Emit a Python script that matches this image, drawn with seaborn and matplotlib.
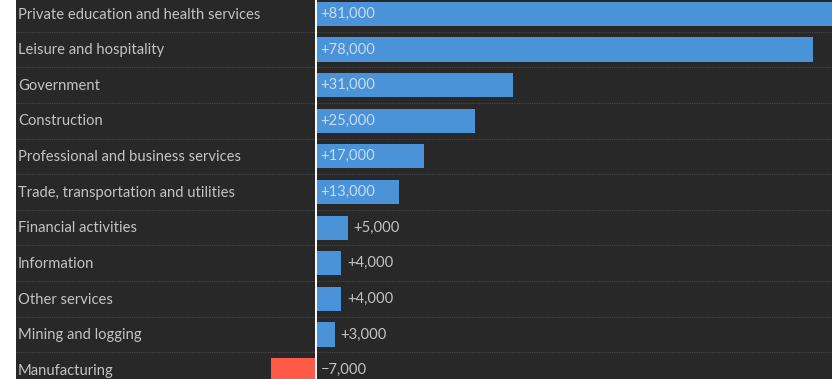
import matplotlib
matplotlib.use("Agg")
import matplotlib.pyplot as plt
import matplotlib.transforms as mtransforms
import seaborn as sns
import pandas as pd

sectors = [
    "Private education and health services",
    "Leisure and hospitality",
    "Government",
    "Construction",
    "Professional and business services",
    "Trade, transportation and utilities",
    "Financial activities",
    "Information",
    "Other services",
    "Mining and logging",
    "Manufacturing",
]
job_change = [81000, 78000, 31000, 25000, 17000, 13000, 5000, 4000, 4000, 3000, -7000]

BG = "#282828"
BLUE = "#4a93d8"
RED = "#ff5a47"
LABEL = "#c4c4c4"

sns.set_theme(style="white")
plt.rcParams["font.family"] = ["Lato", "DejaVu Sans"]

df = pd.DataFrame({"sector": sectors, "change": job_change})
df["sign"] = ["gain" if v >= 0 else "loss" for v in job_change]

fig = plt.figure(figsize=(8.32, 3.79), dpi=100, facecolor="white")
ax = fig.add_axes([16 / 832, 0, 816 / 832, 1])
ax.set_facecolor(BG)

sns.barplot(
    data=df, x="change", y="sector", hue="sign",
    palette={"gain": BLUE, "loss": RED},
    orient="h", width=0.68, dodge=False, legend=False, ax=ax,
    saturation=1, linewidth=0,
)

ax.set_xlim(-47000, 81000)
ax.set_ylim(10.25, -0.39)
ax.set_xlabel("")
ax.set_ylabel("")
ax.set_xticks([])
ax.set_yticks([])
for s in ax.spines.values():
    s.set_visible(False)

# row separators
for i in range(len(sectors) - 1):
    ax.axhline(i + 0.5, color="#474747", lw=0.8, ls=(0, (1, 1)), zorder=0)

# zero baseline
ax.axvline(0, color="white", lw=1.4, zorder=3)

FS = 10.6
trans_left = mtransforms.blended_transform_factory(ax.transAxes, ax.transData)
for i, (name, v) in enumerate(zip(sectors, job_change)):
    ax.text(0.0025, i + 0.02, name, transform=trans_left, ha="left", va="center",
            fontsize=FS, color=LABEL)
    txt = f"+{v:,}" if v > 0 else f"\u2212{abs(v):,}"
    if v >= 10000:
        ax.text(800, i, txt, ha="left", va="center", fontsize=FS,
                color="#e8eef6", alpha=0.8, zorder=4)
    elif v > 0:
        ax.text(v + 900, i, txt, ha="left", va="center", fontsize=FS,
                color=LABEL, zorder=4)
    else:
        ax.text(800, i, txt, ha="left", va="center", fontsize=FS,
                color=LABEL, zorder=4)

fig.savefig("out.png", dpi=100, facecolor="white")
